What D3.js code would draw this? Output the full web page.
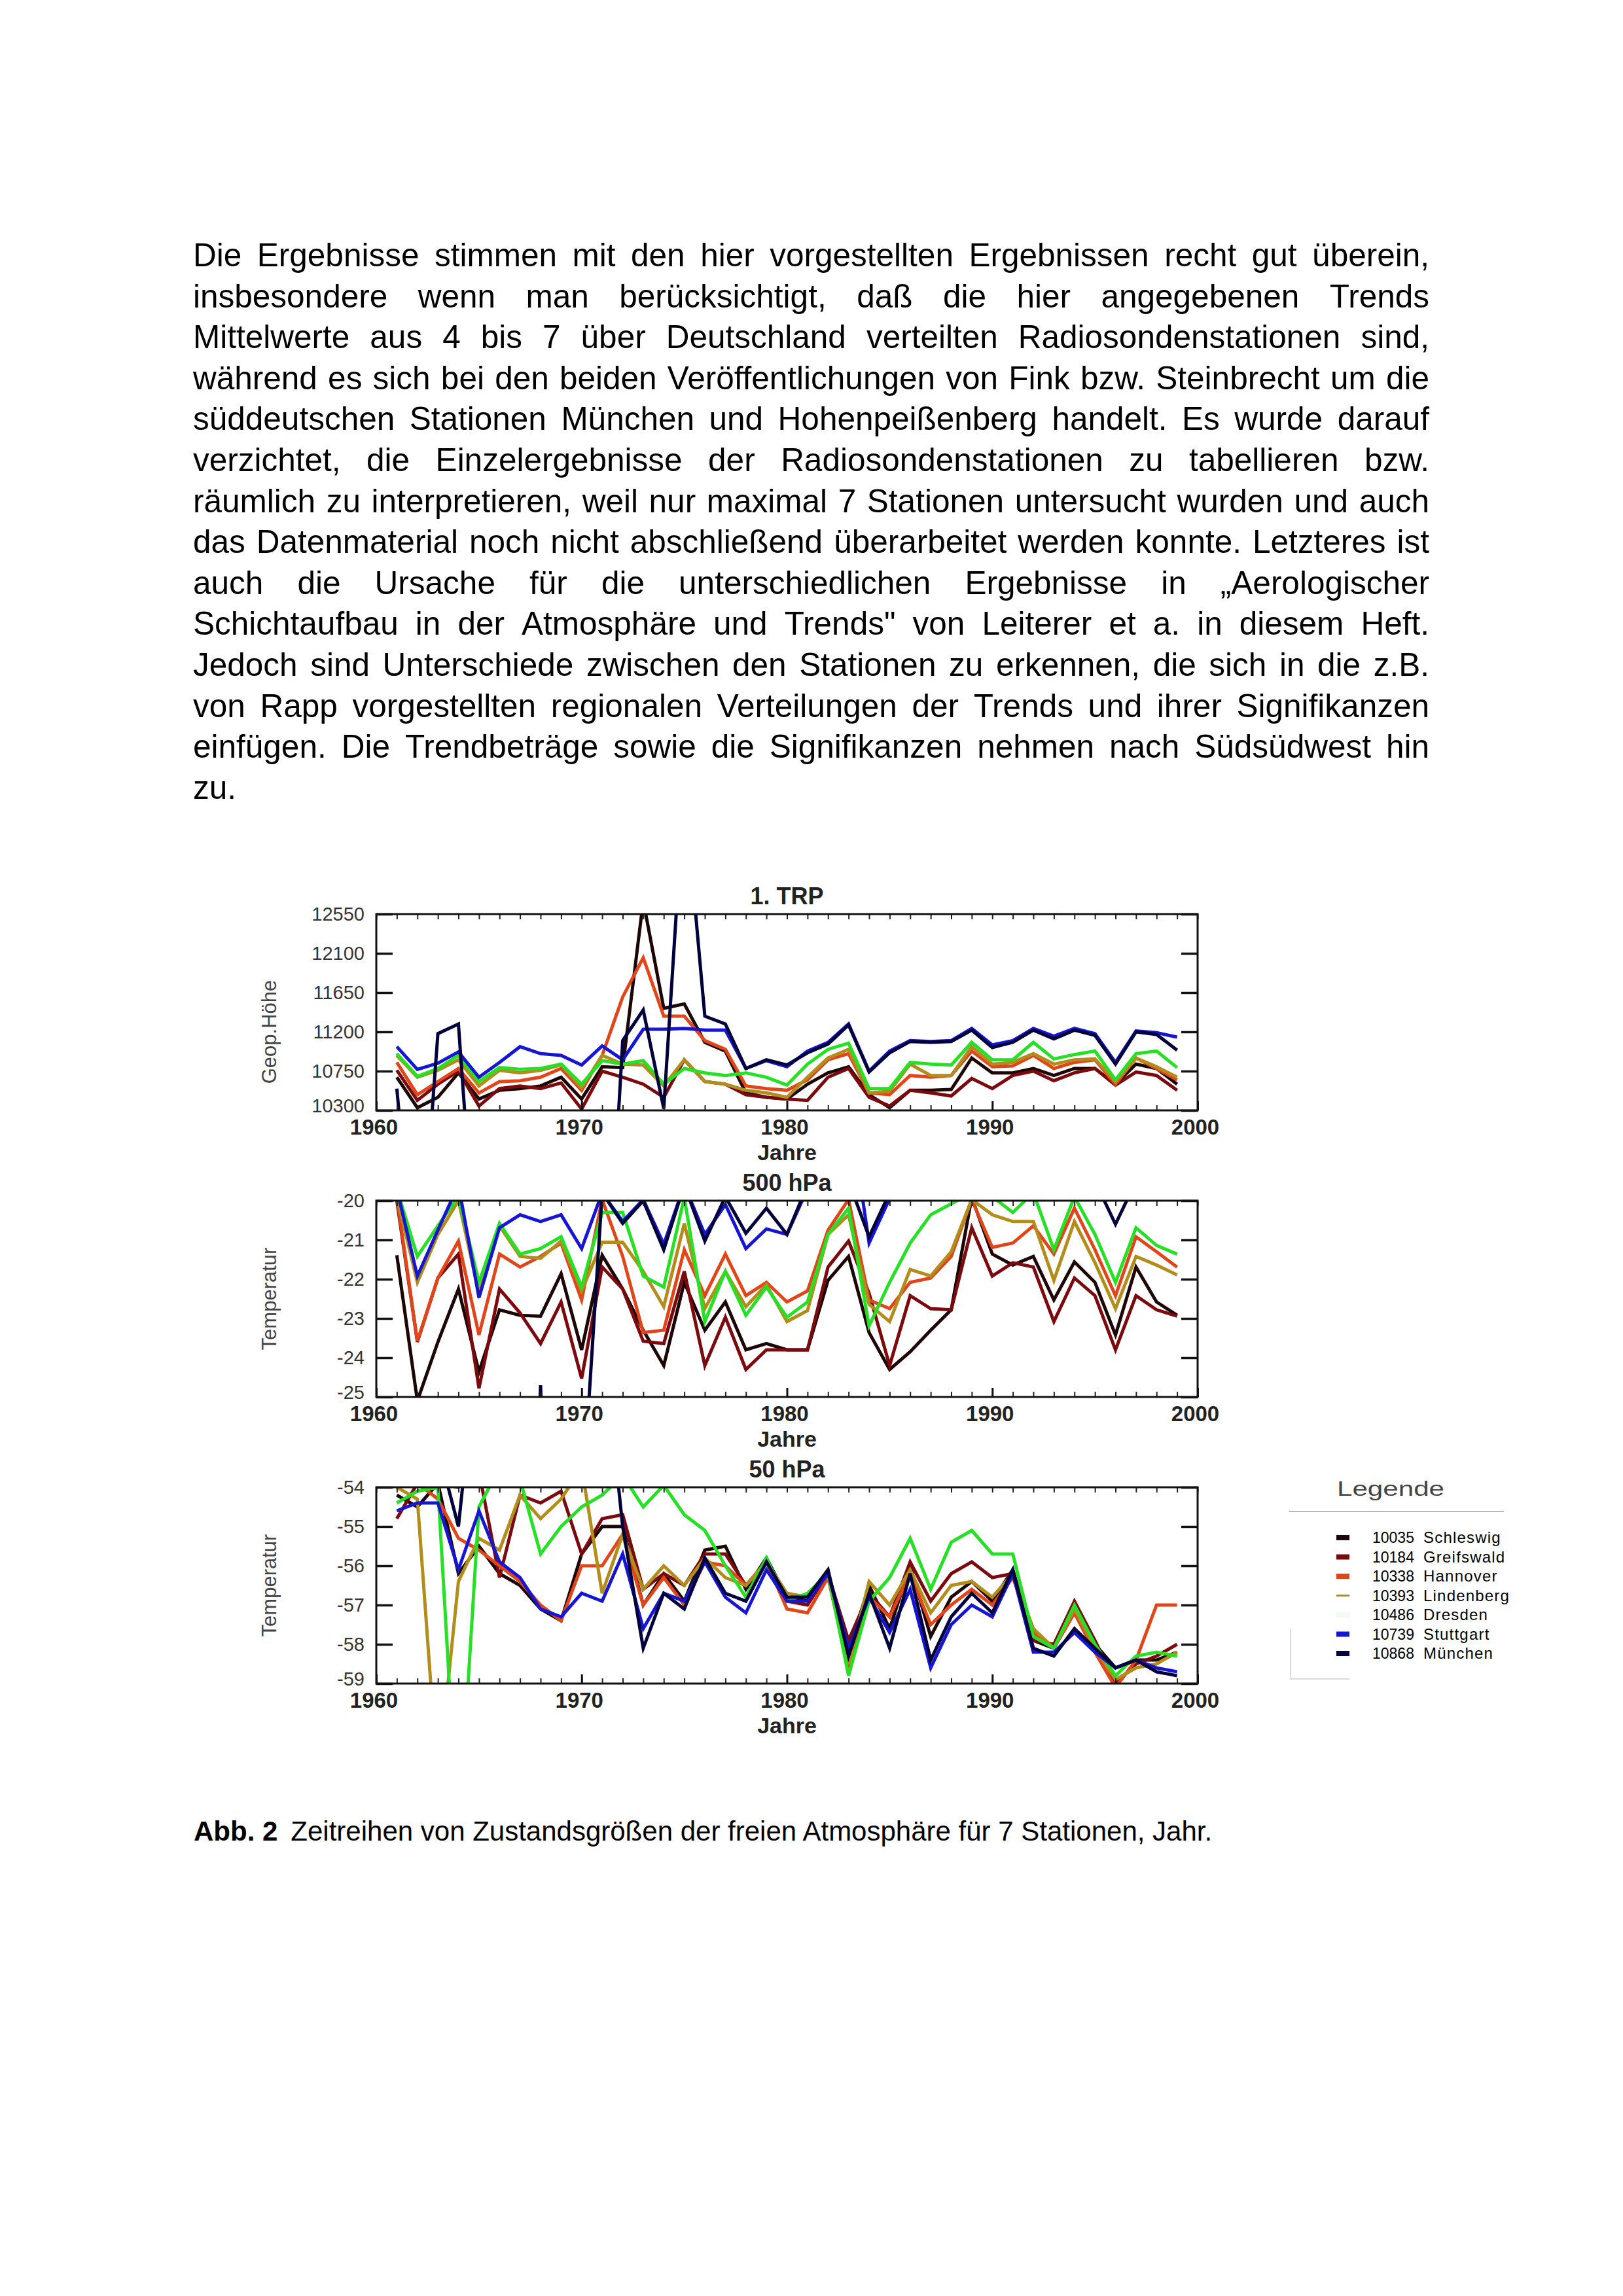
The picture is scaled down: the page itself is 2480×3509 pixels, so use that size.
<!DOCTYPE html>
<html>
<head>
<meta charset="utf-8">
<script src="https://cdn.jsdelivr.net/npm/d3@7"></script>
<style>
  html, body { margin: 0; padding: 0; background: #fff; }
  svg { display: block; font-family: "Liberation Sans", Arial, sans-serif; }
</style>
</head>
<body>
<svg id="page" width="2480" height="3509"></svg>
<script>
// ---- data ----
const years = d3.range(1961, 2000);
const stationIds = ['10035', '10184', '10338', '10393', '10486', '10739', '10868'];
const stationNames = ['Schleswig', 'Greifswald', 'Hannover', 'Lindenberg', 'Dresden', 'Stuttgart', 'München'];
const stationColors = ['#1c0606', '#7a0a0e', '#e0461a', '#b38d1c', '#26e026', '#1616d2', '#00003c'];

const xTicks = [1960, 1970, 1980, 1990, 2000];
const trpTicks = [10300, 10750, 11200, 11650, 12100, 12550];
const t500Ticks = [-25, -24, -23, -22, -21, -20];
const t50Ticks = [-59, -58, -57, -56, -55, -54];

// 1. TRP geopotential height (values off the scale are where the series leaves the frame)
const trpSchleswig = [10680, 10330, 10450, 10730, 10430, 10530, 10550, 10580, 10680, 10430, 10800, 10790, 12700, 11470, 11520, 11080, 10980, 10500, 10450, 10430, 10600, 10730, 10800, 10480, 10330, 10530, 10530, 10540, 10900, 10730, 10730, 10780, 10700, 10780, 10780, 10600, 10830, 10780, 10600];
const trpGreifswald = [10760, 10415, 10600, 10750, 10350, 10550, 10580, 10550, 10615, 10315, 10750, 10680, 10600, 10450, 10880, 10630, 10600, 10480, 10450, 10430, 10415, 10680, 10780, 10450, 10350, 10530, 10500, 10465, 10665, 10550, 10700, 10750, 10640, 10730, 10780, 10590, 10740, 10700, 10530];
const trpHannover = [10850, 10480, 10630, 10780, 10500, 10630, 10640, 10680, 10780, 10530, 10930, 11600, 12050, 11380, 11380, 11100, 11000, 10580, 10550, 10530, 10650, 10880, 10950, 10500, 10480, 10700, 10680, 10700, 10980, 10800, 10810, 10930, 10780, 10850, 10880, 10600, 10900, 10780, 10650];
const trpLindenberg = [10930, 10680, 10760, 10880, 10580, 10760, 10730, 10760, 10820, 10560, 10930, 10830, 10820, 10580, 10880, 10630, 10600, 10530, 10500, 10450, 10680, 10900, 11000, 10500, 10520, 10830, 10700, 10700, 11030, 10830, 10850, 10950, 10830, 10880, 10890, 10630, 10900, 10800, 10680];
const trpDresden = [10950, 10690, 10780, 10930, 10630, 10790, 10770, 10780, 10830, 10600, 10870, 10830, 10870, 10600, 10780, 10730, 10700, 10730, 10680, 10590, 10830, 11000, 11070, 10550, 10550, 10850, 10830, 10820, 11080, 10880, 10880, 11080, 10890, 10940, 10980, 10650, 10950, 10980, 10790];
const trpStuttgart = [11030, 10770, 10840, 10970, 10680, 10850, 11030, 10950, 10930, 10820, 11040, 10880, 11230, 11230, 11240, 11220, 11220, 10780, 10870, 10800, 10980, 11080, 11290, 10750, 10980, 11100, 11090, 11100, 11240, 11050, 11100, 11240, 11150, 11240, 11180, 10850, 11210, 11190, 11140];
const trpMuenchen = [10550, 8000, 11180, 11290, 8000, 8000, 8000, 8000, 8000, 8000, 7000, 11100, 11450, 10320, 14000, 11380, 11290, 10780, 10880, 10820, 10960, 11060, 11280, 10740, 10960, 11090, 11080, 11090, 11220, 11020, 11080, 11220, 11120, 11220, 11160, 10830, 11200, 11170, 10990];

// 500 hPa temperature
const t500Schleswig = [-21.39, -25.1, -23.6, -22.25, -24.36, -22.78, -22.92, -22.94, -21.86, -23.8, -21.39, -22.25, -23.3, -24.2, -22.08, -23.3, -22.58, -23.8, -23.64, -23.8, -23.8, -22.03, -21.42, -23.36, -24.3, -23.85, -23.3, -22.78, -19.92, -21.36, -21.64, -21.42, -22.53, -21.56, -22.08, -23.42, -21.69, -22.58, -22.92];
const t500Greifswald = [-20.0, -23.6, -21.97, -21.36, -24.78, -22.25, -22.86, -23.64, -22.58, -24.53, -21.69, -22.25, -23.58, -23.64, -21.8, -24.2, -22.97, -24.3, -23.8, -23.8, -23.8, -21.69, -21.03, -22.36, -24.2, -22.42, -22.75, -22.78, -20.69, -21.92, -21.58, -21.69, -23.08, -21.97, -22.42, -23.8, -22.42, -22.78, -22.94];
const t500Hannover = [-19.9, -23.58, -21.97, -21.03, -23.42, -21.36, -21.69, -21.42, -21.08, -22.53, -19.97, -21.42, -23.36, -23.3, -21.25, -22.42, -21.36, -22.42, -22.08, -22.58, -22.3, -20.75, -19.97, -22.53, -22.75, -22.08, -21.97, -21.42, -19.97, -21.19, -21.08, -20.64, -21.36, -20.19, -21.25, -22.42, -20.92, -21.3, -21.69];
const t500Lindenberg = [-19.9, -22.08, -20.86, -20.0, -22.36, -20.64, -21.42, -21.47, -21.03, -22.3, -21.06, -21.06, -21.8, -22.7, -20.58, -22.75, -21.8, -22.7, -22.14, -23.08, -22.8, -20.86, -20.36, -22.64, -23.08, -21.75, -21.92, -21.3, -19.97, -20.36, -20.53, -20.53, -22.03, -20.53, -21.58, -22.75, -21.42, -21.64, -21.89];
const t500Dresden = [-19.7, -21.42, -20.64, -19.9, -22.08, -20.58, -21.36, -21.22, -20.92, -22.2, -20.3, -20.3, -21.92, -22.2, -19.92, -23.08, -21.8, -22.92, -22.2, -22.97, -22.58, -20.86, -20.19, -23.19, -22.08, -21.08, -20.36, -20.08, -19.8, -19.9, -20.3, -19.8, -21.25, -19.9, -20.86, -22.08, -20.69, -21.14, -21.36];
const t500Stuttgart = [-19.7, -21.92, -20.75, -19.6, -22.47, -20.69, -20.36, -20.53, -20.36, -21.22, -19.8, -20.53, -19.97, -21.11, -19.6, -20.86, -20.1, -21.22, -20.72, -20.86, -19.7, -19.5, -17.5, -21.08, -19.95, -19.5, -19.5, -19.5, -19.5, -19.5, -19.5, -19.5, -19.5, -19.5, -19.5, -19.9, -19.5, -19.5, -19.5];
const t500Muenchen = [-40, -40, -40, -40, -40, -40, -40, -24.7, -40, -28, -19.8, -20.58, -20.0, -21.25, -19.6, -21.03, -19.9, -20.83, -20.19, -20.86, -19.6, -19.5, -19.5, -20.92, -19.8, -19.5, -19.5, -19.5, -19.5, -19.5, -19.5, -19.5, -19.5, -19.5, -19.5, -20.6, -19.5, -19.5, -19.5];

// 50 hPa temperature
const t50Schleswig = [-54.2, -54.5, -53.9, -56.2, -55.5, -56.2, -56.5, -57.1, -57.4, -55.7, -55.0, -55.0, -57.0, -56.2, -56.9, -55.6, -55.5, -56.6, -55.8, -56.8, -56.9, -56.2, -58.2, -56.5, -57.6, -56.0, -57.8, -56.8, -56.4, -56.9, -56.1, -57.9, -58.1, -57.0, -58.0, -58.6, -58.4, -58.4, -58.2];
const t50Greifswald = [-54.8, -53.9, -53.9, -54.0, -53.6, -56.3, -54.2, -54.4, -54.1, -55.7, -54.8, -54.7, -56.6, -56.2, -56.5, -55.7, -55.7, -56.5, -55.9, -56.9, -57.0, -56.2, -57.9, -56.7, -57.3, -55.9, -56.9, -56.2, -55.9, -56.3, -56.2, -57.9, -58.0, -56.9, -57.9, -59.0, -58.5, -58.3, -58.0];
const t50Hannover = [-54.0, -53.9, -54.3, -55.3, -55.6, -56.0, -56.4, -57.0, -57.4, -56.0, -56.0, -55.2, -57.0, -56.3, -57.0, -55.9, -56.0, -56.5, -55.9, -57.1, -57.2, -56.3, -58.6, -56.8, -57.3, -56.2, -57.5, -57.0, -56.6, -57.0, -56.3, -57.7, -58.1, -57.2, -58.2, -59.1, -58.4, -57.0, -57.0];
const t50Lindenberg = [-54.0, -54.3, -61.5, -56.4, -55.3, -55.6, -54.2, -54.8, -54.3, -53.5, -56.7, -55.2, -56.6, -56.0, -56.5, -55.8, -56.3, -56.5, -55.9, -56.7, -56.8, -56.2, -58.5, -56.4, -57.0, -56.1, -57.2, -56.5, -56.4, -56.8, -56.2, -57.6, -58.1, -57.1, -58.1, -58.9, -58.6, -58.5, -58.2];
const t50Dresden = [-54.4, -54.1, -54.0, -63.0, -54.5, -53.5, -53.8, -55.7, -55.0, -54.5, -54.2, -53.7, -54.5, -53.95, -54.7, -55.1, -56.0, -56.8, -55.8, -56.9, -56.7, -56.2, -58.8, -56.9, -56.3, -55.3, -56.6, -55.4, -55.1, -55.7, -55.7, -57.8, -58.1, -57.0, -58.0, -58.8, -58.3, -58.2, -58.3];
const t50Stuttgart = [-54.6, -54.4, -54.4, -56.1, -54.6, -55.9, -56.3, -57.1, -57.3, -56.7, -56.9, -55.7, -57.6, -56.7, -56.9, -55.9, -56.8, -57.2, -56.1, -56.9, -56.9, -56.2, -58.1, -56.8, -57.7, -56.6, -58.6, -57.5, -57.0, -57.3, -56.2, -58.2, -58.2, -57.7, -58.2, -58.6, -58.4, -58.6, -58.7];
const t50Muenchen = [-53.5, -53.5, -53.0, -55.0, -50, -50, -50, -50, -50, -50, -50, -55.0, -58.1, -56.7, -57.1, -55.8, -56.7, -56.9, -55.9, -56.8, -56.8, -56.1, -58.3, -56.7, -58.1, -56.2, -58.4, -57.3, -56.7, -57.2, -56.1, -58.1, -58.3, -57.6, -58.1, -58.6, -58.4, -58.7, -58.8];

const bodyLines = [
  'Die Ergebnisse stimmen mit den hier vorgestellten Ergebnissen recht gut überein,',
  'insbesondere wenn man berücksichtigt, daß die hier angegebenen Trends',
  'Mittelwerte aus 4 bis 7 über Deutschland verteilten Radiosondenstationen sind,',
  'während es sich bei den beiden Veröffentlichungen von Fink bzw. Steinbrecht um die',
  'süddeutschen Stationen München und Hohenpeißenberg handelt. Es wurde darauf',
  'verzichtet, die Einzelergebnisse der Radiosondenstationen zu tabellieren bzw.',
  'räumlich zu interpretieren, weil nur maximal 7 Stationen untersucht wurden und auch',
  'das Datenmaterial noch nicht abschließend überarbeitet werden konnte. Letzteres ist',
  'auch die Ursache für die unterschiedlichen Ergebnisse in „Aerologischer',
  'Schichtaufbau in der Atmosphäre und Trends" von Leiterer et a. in diesem Heft.',
  'Jedoch sind Unterschiede zwischen den Stationen zu erkennen, die sich in die z.B.',
  'von Rapp vorgestellten regionalen Verteilungen der Trends und ihrer Signifikanzen',
  'einfügen. Die Trendbeträge sowie die Signifikanzen nehmen nach Südsüdwest hin',
  'zu.'
];

// ---- drawing ----
const svg = d3.select('#page');

// justified paragraph
const textLeft = 295, textRight = 2184, firstBase = 407, lineGap = 62.6;
bodyLines.forEach((line, i) => {
  const words = line.split(' ');
  const y = firstBase + i * lineGap;
  const g = svg.append('g');
  const nodes = words.map(w => g.append('text')
    .attr('y', y).attr('font-size', 49.5).attr('fill', '#000').text(w));
  const widths = nodes.map(n => n.node().getComputedTextLength());
  const total = d3.sum(widths);
  const last = i === bodyLines.length - 1;
  const gap = last || words.length < 2 ? 14 : (textRight - textLeft - total) / (words.length - 1);
  let x = textLeft;
  nodes.forEach((n, k) => { n.attr('x', x); x += widths[k] + gap; });
});

const x = d3.scaleLinear().domain([1960, 2000]).range([575, 1830]);
const plotH = 300;

const panels = [
  { top: 1397, title: '1. TRP', ylabel: 'Geop.Höhe', ylabelY: 1577, domain: [10300, 12550], ticks: trpTicks,
    series: [trpSchleswig, trpGreifswald, trpHannover, trpLindenberg, trpDresden, trpStuttgart, trpMuenchen] },
  { top: 1835, title: '500 hPa', ylabel: 'Temperatur', ylabelY: 1985, domain: [-25, -20], ticks: t500Ticks,
    series: [t500Schleswig, t500Greifswald, t500Hannover, t500Lindenberg, t500Dresden, t500Stuttgart, t500Muenchen] },
  { top: 2273, title: '50 hPa', ylabel: 'Temperatur', ylabelY: 2423, domain: [-59, -54], ticks: t50Ticks,
    series: [t50Schleswig, t50Greifswald, t50Hannover, t50Lindenberg, t50Dresden, t50Stuttgart, t50Muenchen] }
];

panels.forEach((p, pi) => {
  const bottom = p.top + plotH;
  const y = d3.scaleLinear().domain(p.domain).range([bottom, p.top]);
  const g = svg.append('g');

  svg.append('clipPath').attr('id', 'clip' + pi)
    .append('rect').attr('x', x(1960)).attr('y', p.top).attr('width', x(2000) - x(1960)).attr('height', plotH);

  const line = d3.line().x((d, i) => x(years[i])).y(d => y(d));
  const lines = g.append('g').attr('clip-path', `url(#clip${pi})`);
  p.series.forEach((s, si) => {
    lines.append('path')
      .datum(s)
      .attr('d', line)
      .attr('fill', 'none')
      .attr('stroke', stationColors[si])
      .attr('stroke-width', 5)
      .attr('stroke-linejoin', 'miter');
  });

  // minor year ticks, top and bottom
  g.append('g').attr('transform', `translate(0,${bottom})`)
    .call(d3.axisBottom(x).tickValues(d3.range(1960, 2001)).tickSize(-8).tickFormat(''))
    .call(a => a.select('.domain').remove())
    .call(a => a.selectAll('line').attr('stroke', '#222').attr('stroke-width', 2));
  g.append('g').attr('transform', `translate(0,${p.top})`)
    .call(d3.axisTop(x).tickValues(d3.range(1960, 2001)).tickSize(-8).tickFormat(''))
    .call(a => a.select('.domain').remove())
    .call(a => a.selectAll('line').attr('stroke', '#222').attr('stroke-width', 2));

  // decade labels
  g.append('g').attr('transform', `translate(0,${bottom})`)
    .call(d3.axisBottom(x).tickValues(xTicks).tickSize(-14).tickFormat(d3.format('d')))
    .call(a => a.select('.domain').remove())
    .call(a => a.selectAll('line').attr('stroke', '#111').attr('stroke-width', 3))
    .call(a => a.selectAll('text').attr('y', 37).attr('dy', null).attr('dx', -4)
      .attr('font-size', 33).attr('font-weight', 'bold').attr('fill', '#222')
      .attr('font-family', '"Liberation Sans", Arial, sans-serif'));

  // y ticks left (labelled) and right
  g.append('g').attr('transform', `translate(${x(1960)},0)`)
    .call(d3.axisLeft(y).tickValues(p.ticks).tickSize(-25).tickPadding(18).tickFormat(d => String(d)))
    .call(a => a.select('.domain').remove())
    .call(a => a.selectAll('line').attr('stroke', '#111').attr('stroke-width', 3.5))
    .call(a => a.selectAll('text').attr('font-size', 29).attr('fill', '#333')
      .attr('font-family', '"Liberation Sans", Arial, sans-serif')
      .attr('dy', (d, i) => i === 0 ? '0.1em' : '0.32em'));
  g.append('g').attr('transform', `translate(${x(2000)},0)`)
    .call(d3.axisRight(y).tickValues(p.ticks).tickSize(-25).tickFormat(''))
    .call(a => a.select('.domain').remove())
    .call(a => a.selectAll('line').attr('stroke', '#111').attr('stroke-width', 3.5));

  // frame
  g.append('rect')
    .attr('x', x(1960)).attr('y', p.top)
    .attr('width', x(2000) - x(1960)).attr('height', plotH)
    .attr('fill', 'none').attr('stroke', '#111').attr('stroke-width', 3);

  const cx = (x(1960) + x(2000)) / 2;
  g.append('text').attr('x', cx).attr('y', p.top - 15)
    .attr('text-anchor', 'middle').attr('font-size', 36).attr('font-weight', 'bold').attr('fill', '#222')
    .text(p.title);
  g.append('text').attr('x', cx).attr('y', bottom + 76)
    .attr('text-anchor', 'middle').attr('font-size', 34).attr('font-weight', 'bold').attr('fill', '#222')
    .text('Jahre');
  g.append('text')
    .attr('transform', `translate(422,${p.ylabelY}) rotate(-90)`)
    .attr('text-anchor', 'middle').attr('font-size', 31).attr('fill', '#444')
    .text(p.ylabel);
});

// legend
const legend = svg.append('g');
legend.append('text').attr('x', 2043).attr('y', 2286)
  .attr('font-size', 32).attr('fill', '#444')
  .attr('textLength', 164).attr('lengthAdjust', 'spacingAndGlyphs')
  .text('Legende');
legend.append('line').attr('x1', 1970).attr('x2', 2298).attr('y1', 2310).attr('y2', 2310)
  .attr('stroke', '#b8b8b8').attr('stroke-width', 2);
legend.append('path').attr('d', 'M1972,2490 V2566 H2062')
  .attr('fill', 'none').attr('stroke', '#dcdcdc').attr('stroke-width', 2);

const rowY = d3.scaleLinear().domain([0, 6]).range([2350, 2527]);
stationIds.forEach((id, i) => {
  const yy = rowY(i);
  legend.append('rect')
    .attr('x', 2042).attr('y', yy - (i === 3 ? 1.5 : 4))
    .attr('width', 20).attr('height', i === 3 ? 3 : 8)
    .attr('fill', stationColors[i])
    .attr('opacity', i === 4 ? 0.08 : 1);
  legend.append('text').attr('x', 2097).attr('y', yy + 8)
    .attr('font-size', 23).attr('fill', '#000').text(id);
  legend.append('text').attr('x', 2175).attr('y', yy + 8)
    .attr('font-size', 24).attr('letter-spacing', 1.2).attr('fill', '#000').text(stationNames[i]);
});

// caption
const cap = svg.append('text').attr('x', 296).attr('y', 2813).attr('font-size', 42).attr('fill', '#000');
cap.append('tspan').attr('font-weight', 'bold').text('Abb. 2');
cap.append('tspan').attr('dx', 20).text('Zeitreihen von Zustandsgrößen der freien Atmosphäre für 7 Stationen, Jahr.');
</script>
</body>
</html>
